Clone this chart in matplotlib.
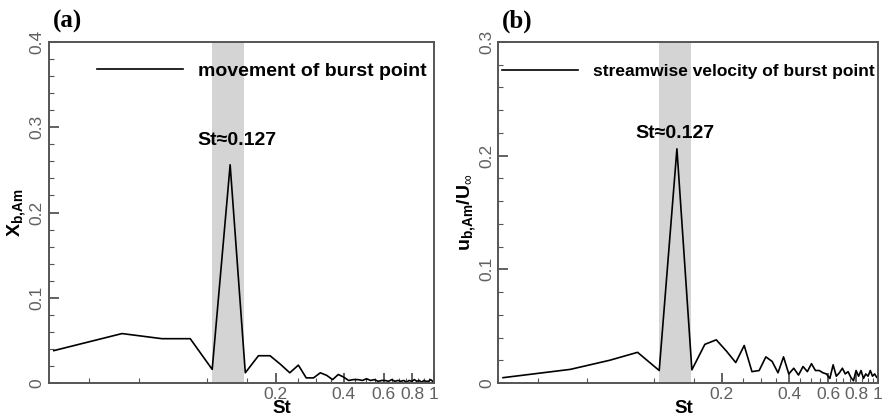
import matplotlib
matplotlib.use('Agg')
import matplotlib.pyplot as plt
import numpy as np

plt.rcParams['font.family'] = ['Liberation Sans', 'DejaVu Sans']
plt.rcParams['mathtext.fontset'] = 'custom'
plt.rcParams['mathtext.rm'] = 'Liberation Sans'
plt.rcParams['mathtext.bf'] = 'Liberation Sans:bold'
plt.rcParams['mathtext.it'] = 'Liberation Sans:italic'

# frequency bins (St)
st = [0.021, 0.042, 0.063, 0.084, 0.105, 0.126, 0.147, 0.168, 0.189, 0.210,
      0.231, 0.252, 0.273, 0.294, 0.315, 0.336, 0.357, 0.378, 0.399, 0.420,
      0.441, 0.462, 0.483, 0.504, 0.525, 0.546, 0.567, 0.588, 0.609, 0.630,
      0.651, 0.672, 0.693, 0.714, 0.735, 0.756, 0.777, 0.798, 0.819, 0.840,
      0.861, 0.882, 0.903, 0.924, 0.945, 0.966, 0.987]

# (a) movement of burst point
xb_am = [0.038, 0.058, 0.052, 0.052, 0.016, 0.256, 0.012, 0.032, 0.032, 0.022,
         0.012, 0.021, 0.006, 0.006, 0.012, 0.009, 0.004, 0.010, 0.007, 0.003,
         0.004, 0.004, 0.003, 0.005, 0.003, 0.004, 0.002, 0.003, 0.003, 0.002,
         0.004, 0.002, 0.003, 0.002, 0.003, 0.001, 0.003, 0.002, 0.004, 0.002,
         0.003, 0.001, 0.003, 0.002, 0.002, 0.004, 0.002]

# (b) streamwise velocity of burst point
ub_am = [0.0047, 0.012, 0.020, 0.027, 0.011, 0.206, 0.0116, 0.034, 0.038, 0.028,
         0.018, 0.033, 0.010, 0.011, 0.023, 0.019, 0.009, 0.023, 0.008, 0.013,
         0.007, 0.0145, 0.010, 0.017, 0.011, 0.011, 0.009, 0.008, 0.004, 0.016,
         0.006, 0.009, 0.013, 0.008, 0.010, 0.005, 0.002, 0.011, 0.006, 0.011,
         0.004, 0.008, 0.006, 0.011, 0.006, 0.008, 0.005]

band = (0.105, 0.145)
x_major = [0.2, 0.4, 0.6, 0.8, 1.0]
x_labels = ['0.2', '0.4', '0.6', '0.8', '1']
x_minor = [0.03, 0.05, 0.1, 0.15, 0.25, 0.3, 0.35, 0.45, 0.5, 0.55, 0.65,
           0.7, 0.75, 0.85, 0.9, 0.95]

fig = plt.figure(figsize=(8.83, 4.13), dpi=100)
ax1 = fig.add_axes([0.0555, 0.0726, 0.436, 0.8257])
ax2 = fig.add_axes([0.5643, 0.0726, 0.430, 0.8257])

grey = '#555555'


def style(ax, ymax, ylab, panel, lblx):
    ax.axvspan(band[0], band[1], color='#d4d4d4', lw=0, zorder=0)
    ax.set_xscale('log')
    ax.set_xlim(0.02, 1.0)
    ax.set_ylim(0, ymax)
    ax.set_xticks(x_major)
    ax.set_xticklabels(x_labels)
    ax.set_xticks(x_minor, minor=True)
    ax.xaxis.set_minor_formatter(matplotlib.ticker.NullFormatter())
    yt = np.arange(0, ymax + 1e-9, 0.1)
    ax.set_yticks(yt)
    ax.set_yticklabels(['0'] + ['%.1f' % v for v in yt[1:]], rotation=90, va='center')
    ax.set_yticks(np.arange(0, ymax + 1e-9, 0.02), minor=True)
    ax.tick_params(which='both', direction='in', color=grey, labelcolor='#606060',
                   labelsize=12.5)
    ax.tick_params(which='major', length=7, width=1.3)
    ax.tick_params(which='minor', length=3.5, width=0.8)
    ax.tick_params(axis='x', which='both', pad=3)
    ax.tick_params(axis='y', which='both', pad=3)
    for sp in ax.spines.values():
        sp.set_color(grey)
        sp.set_linewidth(1.4)
    ax.set_xlabel('St', fontsize=13.5, fontweight='bold')
    ax.xaxis.set_label_coords(lblx, -0.05)
    ax.set_ylabel(ylab, fontsize=14, fontweight='bold', labelpad=1)
    ax.text(0.01, 1.025, panel, transform=ax.transAxes, fontsize=18,
            fontweight='bold', family='Liberation Serif', va='bottom', ha='left')


l1, = ax1.plot(st, xb_am, color='black', lw=1.2)
style(ax1, 0.4, r'X$_{\mathbf{b{,}Am}}$', '(a)', 0.605)
ax1.legend([l1], ['movement of burst point'], loc='center left',
           bbox_to_anchor=(0.125, 0.915), frameon=False, handlelength=4.4,
           handletextpad=0.8, borderpad=0, borderaxespad=0,
           prop={'weight': 'bold', 'size': 14})
ax1.text(0.135, 0.284, 'St≈0.127', ha='center', va='center', fontsize=14,
         fontweight='bold')

l2, = ax2.plot(st, ub_am, color='black', lw=1.2)
style(ax2, 0.3, r'u$_{\mathbf{b{,}Am}}$/U$_{\infty}$', '(b)', 0.49)
ax2.legend([l2], ['streamwise velocity of burst point'], loc='center left',
           bbox_to_anchor=(0.01, 0.913), frameon=False, handlelength=4.37,
           handletextpad=0.85, borderpad=0, borderaxespad=0,
           prop={'weight': 'bold', 'size': 12.5})
ax2.text(0.123, 0.2195, 'St≈0.127', ha='center', va='center', fontsize=14,
         fontweight='bold')

fig.savefig('out.png', dpi=100)
